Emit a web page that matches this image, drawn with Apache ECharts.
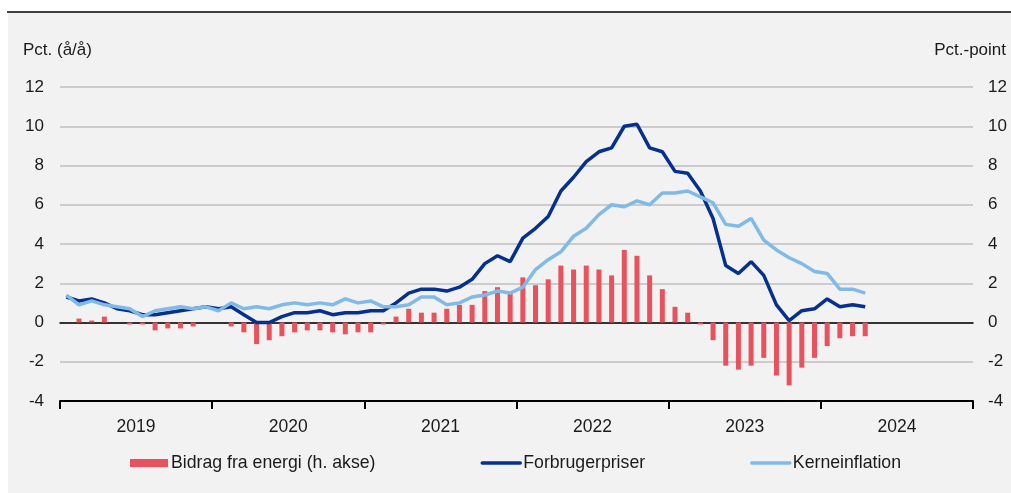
<!DOCTYPE html>
<html>
<head>
<meta charset="utf-8">
<script src="https://cdn.jsdelivr.net/npm/echarts@6/dist/echarts.min.js"></script>
<style>
  html, body { margin: 0; padding: 0; background: #fff; }
  #chart { width: 1011px; height: 493px; }
</style>
</head>
<body>
<div id="chart"></div>
<script>
// år på x-aksen, en kategori pr. måned jan 2019 - dec 2024
var years = ['2019', '2020', '2021', '2022', '2023', '2024'];
var months = [];
years.forEach(function (y) {
  for (var m = 1; m <= 12; m++) months.push(y + '-' + (m < 10 ? '0' + m : m));
});

// jan 2019 - apr 2024
var energi = [
  0, 0.2, 0.1, 0.3, 0, -0.1, -0.1, -0.4, -0.3, -0.3, -0.2, 0,
  0, -0.2, -0.5, -1.1, -0.9, -0.7, -0.5, -0.4, -0.4, -0.5, -0.6, -0.5,
  -0.5, -0.1, 0.3, 0.7, 0.5, 0.5, 0.7, 0.9, 0.9, 1.6, 1.8, 1.5,
  2.3, 1.9, 2.2, 2.9, 2.7, 2.9, 2.7, 2.4, 3.7, 3.4, 2.4, 1.7,
  0.8, 0.5, -0.1, -0.9, -2.2, -2.4, -2.2, -1.8, -2.7, -3.2, -2.3, -1.8,
  -1.2, -0.8, -0.7, -0.7
];
var forbrugerpriser = [
  1.3, 1.1, 1.2, 1.0, 0.7, 0.6, 0.4, 0.4, 0.5, 0.6, 0.7, 0.8,
  0.7, 0.8, 0.4, 0.0, 0.0, 0.3, 0.5, 0.5, 0.6, 0.4, 0.5, 0.5,
  0.6, 0.6, 1.0, 1.5, 1.7, 1.7, 1.6, 1.8, 2.2, 3.0, 3.4, 3.1,
  4.3, 4.8, 5.4, 6.7, 7.4, 8.2, 8.7, 8.9, 10.0, 10.1, 8.9, 8.7,
  7.7, 7.6, 6.7, 5.3, 2.9, 2.5, 3.1, 2.4, 0.9, 0.1, 0.6, 0.7,
  1.2, 0.8, 0.9, 0.8
];
var kerneinflation = [
  1.4, 0.9, 1.1, 0.9, 0.8, 0.7, 0.3, 0.6, 0.7, 0.8, 0.7, 0.8,
  0.6, 1.0, 0.7, 0.8, 0.7, 0.9, 1.0, 0.9, 1.0, 0.9, 1.2, 1.0,
  1.1, 0.8, 0.8, 0.9, 1.3, 1.3, 0.9, 1.0, 1.3, 1.4, 1.6, 1.5,
  1.8, 2.7, 3.2, 3.6, 4.4, 4.8, 5.5, 6.0, 5.9, 6.2, 6.0, 6.6,
  6.6, 6.7, 6.4, 6.1, 5.0, 4.9, 5.3, 4.2, 3.7, 3.3, 3.0, 2.6,
  2.5, 1.7, 1.7, 1.5
];

var font = 'Liberation Sans, Arial, sans-serif';
var txt = '#1a1a1a';
var navy = '#06308f';
var lyseblaa = '#80bae8';

var chart = echarts.init(document.getElementById('chart'));

var option = {
  backgroundColor: '#f2f2f2',
  animation: false,
  textStyle: { fontFamily: font },
  grid: { left: 60, right: 38, top: 87, bottom: 92 },
  graphic: [
    { type: 'rect', shape: { x: 0, y: 0, width: 1011, height: 12 }, style: { fill: '#fff' } },
    { type: 'rect', shape: { x: 0, y: 0, width: 8, height: 493 }, style: { fill: '#fff' } },
    { type: 'line', shape: { x1: 7, y1: 12, x2: 1011, y2: 12 }, style: { stroke: '#000', lineWidth: 1.5 } },
    { type: 'text', left: 23, top: 42, style: { text: 'Pct. (å/å)', font: '17px ' + font, fill: txt } },
    { type: 'text', right: 5, top: 42, style: { text: 'Pct.-point', font: '17px ' + font, fill: txt } }
  ],
  legend: {
    left: 130,
    top: 454,
    padding: 0,
    itemWidth: 38,
    itemHeight: 8,
    itemGap: 105,
    textStyle: { fontSize: 17.7, color: txt, fontFamily: font, padding: [0, 0, 0, -2] },
    data: [
      { name: 'Bidrag fra energi (h. akse)', icon: 'rect' },
      { name: 'Forbrugerpriser', itemStyle: { opacity: 0 }, lineStyle: { color: navy, width: 3.5, cap: 'round' } },
      { name: 'Kerneinflation', itemStyle: { opacity: 0 }, lineStyle: { color: lyseblaa, width: 3.5, cap: 'round' } }
    ]
  },
  xAxis: [
    {
      // månedsakse, linjen ligger på 0
      type: 'category',
      data: months,
      position: 'bottom',
      axisLine: { show: true, onZero: true, lineStyle: { color: '#000', width: 1.5 } },
      axisTick: { show: false },
      axisLabel: { show: false },
      splitLine: { show: false }
    },
    {
      type: 'category',
      data: years,
      position: 'bottom',
      boundaryGap: true,
      axisLine: { show: true, onZero: false, lineStyle: { color: '#000', width: 2 } },
      axisTick: { show: true, length: 8, lineStyle: { color: '#000', width: 2 } },
      axisLabel: { color: txt, fontSize: 17.5, margin: 17 },
      splitLine: { show: false }
    }
  ],
  yAxis: [
    {
      type: 'value',
      min: -4, max: 12, interval: 2,
      axisLine: { show: false },
      axisTick: { show: false },
      axisLabel: { color: txt, fontSize: 17, margin: 16 },
      splitLine: { lineStyle: { color: '#bfbfbf', width: 1.5 } }
    },
    {
      type: 'value',
      min: -4, max: 12, interval: 2,
      position: 'right',
      axisLine: { show: false },
      axisTick: { show: false },
      axisLabel: { color: txt, fontSize: 17, margin: 15 },
      splitLine: { show: false }
    }
  ],
  series: [
    {
      name: 'Bidrag fra energi (h. akse)',
      type: 'bar',
      xAxisIndex: 0,
      yAxisIndex: 1,
      data: energi,
      barWidth: 5,
      itemStyle: { color: '#e9525c' }
    },
    {
      name: 'Forbrugerpriser',
      type: 'line',
      xAxisIndex: 0,
      yAxisIndex: 0,
      data: forbrugerpriser,
      symbol: 'none',
      color: navy,
      lineStyle: { color: navy, width: 3.5 }
    },
    {
      name: 'Kerneinflation',
      type: 'line',
      xAxisIndex: 0,
      yAxisIndex: 0,
      data: kerneinflation,
      symbol: 'none',
      color: lyseblaa,
      lineStyle: { color: lyseblaa, width: 3.5 }
    }
  ]
};
option && chart.setOption(option);
</script>
</body>
</html>
